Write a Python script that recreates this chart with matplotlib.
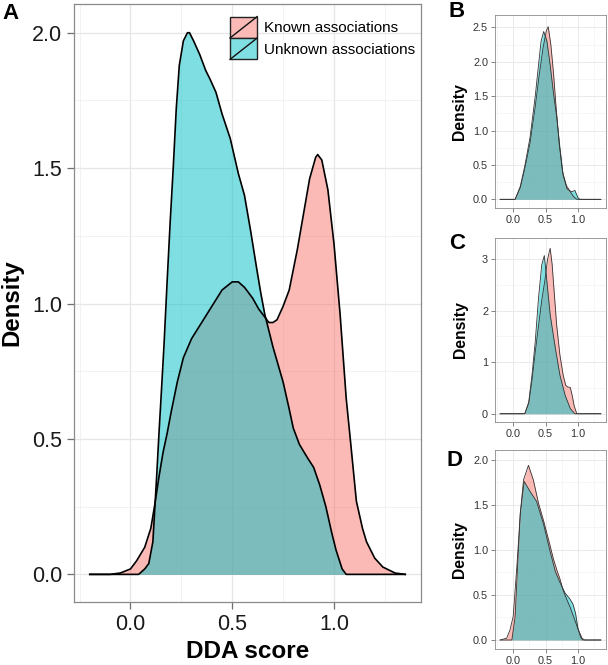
import matplotlib
matplotlib.use("Agg")
import matplotlib.pyplot as plt
from matplotlib.patches import Patch, Rectangle
from matplotlib.lines import Line2D
from matplotlib.legend_handler import HandlerBase

plt.rcParams['font.family'] = ['Liberation Sans', 'DejaVu Sans']

pink = '#F8766D'
cyan = '#00BFC4'
labels = ['Known associations', 'Unknown associations']

# ---- panel A: DDA score densities ----
a_known_x = [-0.20, -0.10, -0.05, 0.00, 0.03, 0.07, 0.10, 0.12, 0.14, 0.16, 0.18, 0.20,
             0.23, 0.26, 0.30, 0.35, 0.40, 0.45, 0.50, 0.53, 0.56, 0.60, 0.63, 0.66,
             0.68, 0.70, 0.72, 0.75, 0.78, 0.82, 0.85, 0.88, 0.91, 0.92, 0.94, 0.97,
             1.00, 1.03, 1.06, 1.08, 1.11, 1.14, 1.16, 1.20, 1.24, 1.30, 1.35]
a_known_y = [0.0, 0.0, 0.005, 0.02, 0.05, 0.10, 0.17, 0.26, 0.36, 0.45, 0.52, 0.60,
             0.71, 0.80, 0.87, 0.93, 0.99, 1.05, 1.08, 1.08, 1.06, 1.02, 0.98, 0.95,
             0.93, 0.93, 0.94, 0.99, 1.05, 1.20, 1.33, 1.46, 1.54, 1.55, 1.53, 1.42,
             1.22, 0.96, 0.65, 0.50, 0.27, 0.17, 0.12, 0.06, 0.027, 0.005, 0.0]
a_unk_x = [-0.20, 0.04, 0.07, 0.09, 0.11, 0.12, 0.13, 0.14, 0.15, 0.165, 0.18, 0.195,
           0.21, 0.225, 0.24, 0.26, 0.28, 0.29, 0.31, 0.34, 0.37, 0.39, 0.42, 0.45,
           0.49, 0.53, 0.56, 0.59, 0.62, 0.64, 0.66, 0.70, 0.75, 0.78, 0.80, 0.83,
           0.87, 0.90, 0.93, 0.96, 0.99, 1.01, 1.04, 1.06, 1.35]
a_unk_y = [0.0, 0.0, 0.02, 0.04, 0.12, 0.25, 0.38, 0.52, 0.65, 0.85, 1.08, 1.30,
           1.50, 1.72, 1.88, 1.97, 2.00, 2.00, 1.97, 1.92, 1.86, 1.83, 1.78, 1.70,
           1.61, 1.48, 1.40, 1.27, 1.13, 1.04, 0.96, 0.84, 0.71, 0.61, 0.54, 0.48,
           0.43, 0.395, 0.33, 0.25, 0.15, 0.09, 0.02, 0.0, 0.0]

# ---- panel B ----
b_known_x = [-0.20, 0.03, 0.11, 0.18, 0.26, 0.34, 0.40, 0.46, 0.51, 0.54, 0.58, 0.62,
             0.66, 0.71, 0.76, 0.82, 0.88, 0.93, 0.98, 1.35]
b_known_y = [0.0, 0.0, 0.17, 0.45, 0.82, 1.35, 1.80, 2.20, 2.45, 2.51, 2.25, 1.85,
             1.35, 0.80, 0.40, 0.20, 0.11, 0.04, 0.0, 0.0]
b_unk_x = [-0.20, 0.03, 0.11, 0.18, 0.26, 0.34, 0.39, 0.43, 0.47, 0.52, 0.57, 0.62,
           0.67, 0.72, 0.77, 0.83, 0.90, 0.95, 1.00, 1.03, 1.35]
b_unk_y = [0.0, 0.0, 0.19, 0.49, 0.90, 1.50, 1.95, 2.30, 2.44, 2.30, 1.95, 1.55,
           1.20, 0.75, 0.35, 0.15, 0.11, 0.13, 0.02, 0.0, 0.0]

# ---- panel C ----
c_known_x = [-0.20, 0.15, 0.18, 0.24, 0.29, 0.34, 0.39, 0.44, 0.49, 0.53, 0.57, 0.60,
             0.62, 0.67, 0.72, 0.77, 0.81, 0.84, 0.88, 0.91, 0.94, 0.98, 1.35]
c_known_y = [0.0, 0.0, 0.01, 0.20, 0.65, 1.20, 1.70, 2.20, 2.60, 3.00, 3.21, 2.90,
             2.56, 1.72, 1.14, 0.75, 0.55, 0.52, 0.51, 0.35, 0.15, 0.0, 0.0]
c_unk_x = [-0.20, 0.15, 0.18, 0.24, 0.29, 0.34, 0.39, 0.44, 0.48, 0.52, 0.57, 0.65,
           0.72, 0.80, 0.88, 0.95, 1.35]
c_unk_y = [0.0, 0.0, 0.0, 0.23, 0.75, 1.40, 2.24, 2.89, 3.07, 2.56, 1.92, 1.27,
           0.75, 0.36, 0.10, 0.0, 0.0]

# ---- panel D ----
d_known_x = [-0.20, -0.10, -0.05, 0.00, 0.06, 0.11, 0.16, 0.235, 0.31, 0.39, 0.47,
             0.55, 0.62, 0.68, 0.72, 0.77, 0.82, 0.88, 0.95, 1.00, 1.06, 1.10, 1.35]
d_known_y = [0.0, 0.02, 0.11, 0.26, 0.85, 1.41, 1.78, 1.94, 1.78, 1.52, 1.32,
             1.10, 0.90, 0.76, 0.68, 0.55, 0.46, 0.36, 0.22, 0.12, 0.02, 0.0, 0.0]
d_unk_x = [-0.20, -0.02, 0.03, 0.07, 0.11, 0.17, 0.26, 0.36, 0.47, 0.57, 0.65,
           0.72, 0.80, 0.87, 0.92, 0.96, 1.00, 1.04, 1.07, 1.35]
d_unk_y = [0.0, 0.0, 0.26, 0.85, 1.41, 1.76, 1.65, 1.54, 1.28, 0.98, 0.76,
           0.64, 0.52, 0.46, 0.40, 0.30, 0.12, 0.03, 0.0, 0.0]


class KeyHandler(HandlerBase):
    # ggplot style density key: filled box with a slash
    def create_artists(self, legend, orig_handle, xdescent, ydescent,
                       width, height, fontsize, trans):
        x0, y0 = -xdescent, -ydescent
        box = Rectangle((x0, y0), width, height, facecolor=orig_handle.get_facecolor(),
                        edgecolor='#222222', lw=1.0, transform=trans)
        slash = Line2D([x0, x0 + width], [y0, y0 + height], color='#111111',
                       lw=1.0, transform=trans)
        return [box, slash]


def style_axes(ax, xlim, ylim, yticks, ytick_labels, yminor, big):
    ax.set_xlim(*xlim)
    ax.set_ylim(*ylim)
    ax.set_xticks([0.0, 0.5, 1.0])
    ax.set_xticklabels(['0.0', '0.5', '1.0'])
    ax.set_xticks([-0.25, 0.25, 0.75, 1.25], minor=True)
    ax.set_yticks(yticks)
    ax.set_yticklabels(ytick_labels)
    ax.set_yticks(yminor, minor=True)
    ax.grid(True, which='major', color='#e6e6e6', lw=0.9 if big else 0.6)
    ax.grid(True, which='minor', color='#f0f0f0', lw=0.6 if big else 0.4)
    ax.set_axisbelow(True)
    for s in ax.spines.values():
        s.set_color('#8a8a8a')
        s.set_linewidth(0.9 if big else 0.6)
    ax.tick_params(which='minor', length=0)
    if big:
        ax.tick_params(which='major', length=5, width=0.9, color='#6f6f6f',
                       labelsize=15.5, pad=3.5, labelcolor='#1a1a1a')
    else:
        ax.tick_params(which='major', length=3, width=0.6, color='#6f6f6f',
                       labelsize=7.8, pad=2, labelcolor='#333333')


def draw_pair(ax, kx, ky, ux, uy, lw, edge):
    ax.fill_between(kx, ky, 0, color=pink, alpha=0.5, lw=0)
    ax.plot(kx, ky, color=edge, lw=lw)
    ax.fill_between(ux, uy, 0, color=cyan, alpha=0.5, lw=0)
    ax.plot(ux, uy, color=edge, lw=lw)


fig = plt.figure(figsize=(6.08, 6.65), dpi=100)
W, H = 608.0, 665.0


def add_axes(left, top, right, bottom):
    return fig.add_axes([left / W, 1 - bottom / H, (right - left) / W, (bottom - top) / H])


axA = add_axes(74, 4, 421, 602)
draw_pair(axA, a_known_x, a_known_y, a_unk_x, a_unk_y, 1.2, 'black')
style_axes(axA, (-0.2775, 1.4275), (-0.102, 2.106), [0, 0.5, 1.0, 1.5, 2.0],
           ['0.0', '0.5', '1.0', '1.5', '2.0'], [0.25, 0.75, 1.25, 1.75], True)
axA.set_xlabel('DDA score', fontsize=17.5, fontweight='bold', labelpad=4)
axA.set_ylabel('Density', fontsize=17.3, fontweight='bold', labelpad=6)
handles = [Patch(facecolor='#fbbab6'), Patch(facecolor='#80dfe2')]
axA.legend(handles, labels, handler_map={Patch: KeyHandler()}, loc='upper left',
           bbox_to_anchor=(0.4496, 0.979), frameon=False, fontsize=11,
           handlelength=1.78, handleheight=1.78, labelspacing=0.0,
           handletextpad=0.45, borderpad=0, borderaxespad=0)

axB = add_axes(495, 15, 606, 208)
draw_pair(axB, b_known_x, b_known_y, b_unk_x, b_unk_y, 0.6, '#333333')
style_axes(axB, (-0.28, 1.43), (-0.126, 2.68), [0, 0.5, 1.0, 1.5, 2.0, 2.5],
           ['0.0', '0.5', '1.0', '1.5', '2.0', '2.5'],
           [0.25, 0.75, 1.25, 1.75, 2.25], False)
axB.set_ylabel('Density', fontsize=11.3, fontweight='bold', labelpad=4)

axC = add_axes(495, 238, 606, 422)
draw_pair(axC, c_known_x, c_known_y, c_unk_x, c_unk_y, 0.6, '#333333')
style_axes(axC, (-0.28, 1.43), (-0.16, 3.41), [0, 1, 2, 3],
           ['0', '1', '2', '3'], [0.5, 1.5, 2.5], False)
axC.set_ylabel('Density', fontsize=11.3, fontweight='bold', labelpad=10)

axD = add_axes(495, 450, 606, 649)
draw_pair(axD, d_known_x, d_known_y, d_unk_x, d_unk_y, 0.6, '#333333')
style_axes(axD, (-0.28, 1.43), (-0.1, 2.11), [0, 0.5, 1.0, 1.5, 2.0],
           ['0.0', '0.5', '1.0', '1.5', '2.0'], [0.25, 0.75, 1.25, 1.75], False)
axD.set_ylabel('Density', fontsize=11.3, fontweight='bold', labelpad=4)

for letter, px, py in [('A', 2, 3), ('B', 449, 1), ('C', 449, 233), ('D', 447, 450)]:
    fig.text(px / W, 1 - py / H, letter, fontsize=16, fontweight='bold',
             va='top', ha='left')

fig.savefig('out.png', dpi=100)
